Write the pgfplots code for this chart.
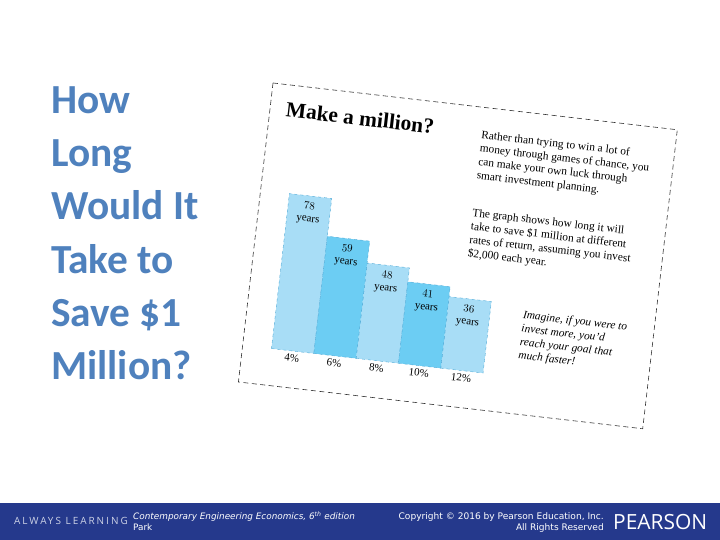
\documentclass[border=0pt]{standalone}
\usepackage{pgfplots}
\pgfplotsset{compat=1.18}
\usepackage{fontspec}
\setmainfont{Liberation Serif}
\newfontfamily\carlito{Carlito}
\newfontfamily\dejavu{DejaVu Sans}
\newfontfamily\opensans{Open Sans}
\newfontfamily\spaced[LetterSpace=20]{Open Sans}
\definecolor{titleblue}{RGB}{79,129,189}
\definecolor{footblue}{RGB}{37,57,140}
\definecolor{barlight}{RGB}{168,221,246}
\definecolor{bardark}{RGB}{108,205,243}
\definecolor{baredge}{RGB}{80,170,215}
\definecolor{footgray}{RGB}{205,210,230}
\begin{document}
\begin{tikzpicture}[x=1bp,y=1bp]
\path[use as bounding box, fill=white] (0,0) rectangle (720,540);
\fill[footblue] (0,0) rectangle (720,37);
% slide title
\begin{scope}[every node/.style={anchor=base west, inner sep=0pt, text=titleblue, font=\carlito\bfseries\fontsize{41.5}{50}\selectfont}]
\node at (51,426.5) {How};
\node at (51,373.3) {Long};
\node at (51,320.1) {Would It};
\node at (51,266.9) {Take to};
\node at (51,213.7) {Save \$1};
\node at (51,160.5) {Million?};
\end{scope}
% footer
\node[anchor=base west, inner sep=0pt, text=footgray, font=\spaced\fontsize{10}{10}\selectfont] at (14,15) {ALWAYS LEARNING};
\node[anchor=base west, inner sep=0pt, text=white, font=\dejavu\itshape\fontsize{8.9}{9}\selectfont] at (133,20) {Contemporary Engineering Economics, 6\textsuperscript{th} edition};
\node[anchor=base west, inner sep=0pt, text=white, font=\dejavu\fontsize{8.9}{9}\selectfont] at (133,9) {Park};
\node[anchor=base east, inner sep=0pt, text=white, font=\dejavu\fontsize{9.1}{9}\selectfont] at (604,20) {Copyright \textcopyright{} 2016 by Pearson Education, Inc.};
\node[anchor=base east, inner sep=0pt, text=white, font=\dejavu\fontsize{9.1}{9}\selectfont] at (604,9) {All Rights Reserved};
\node[anchor=base west, inner sep=0pt, text=white, font=\opensans\fontsize{21}{24}\selectfont] at (613,10) {PEARSON};
% rotated chart panel
\begin{scope}[transform canvas={shift={(273bp,457bp)}, rotate=-6.6}]
\draw[black!80, line width=0.6bp, dash pattern=on 5bp off 3.5bp] (0,0) rectangle (407,-301);
\node[anchor=base west, inner sep=0pt, font=\bfseries\fontsize{21.5}{24}\selectfont] at (16,-32) {Make a million?};
\node[anchor=north west, inner sep=0pt, align=left, font=\fontsize{11.4}{13.6}\selectfont] at (213,-23) {Rather than trying to win a lot of\\money through games of chance, you\\can make your own luck through\\smart investment planning.};
\node[anchor=north west, inner sep=0pt, align=left, font=\fontsize{11.4}{13.6}\selectfont] at (213,-101.5) {The graph shows how long it will\\take to save \$1 million at different\\rates of return, assuming you invest\\\$2,000 each year.};
\node[anchor=north west, inner sep=0pt, align=left, font=\itshape\fontsize{11.4}{13.6}\selectfont] at (275,-197) {Imagine, if you were to\\invest more, you'd\\reach your goal that\\much faster!};
\begin{axis}[
  at={(29bp,-264bp)}, anchor=south west,
  scale only axis, width=213bp, height=160bp,
  xmin=-0.5, xmax=4.5, ymin=0, ymax=80,
  axis line style={draw=none}, tick style={draw=none},
  ytick=\empty, xtick={0,...,4}, xticklabels={4\%,6\%,8\%,10\%,12\%},
  xticklabel style={font=\fontsize{11}{12}\selectfont},
  clip=false,
  nodes near coords={\pgfmathprintnumber{\pgfplotspointmeta}\\years},
  nodes near coords align={below},
  every node near coord/.append style={align=center, font=\fontsize{11}{12.6}\selectfont, inner sep=0pt, yshift=-6bp, text=black},
]
\addplot[ybar, bar width=1, bar shift=0pt, fill=barlight, draw=baredge, dashed, line width=0.4bp] coordinates {(0,78) (2,48) (4,36)};
\addplot[ybar, bar width=1, bar shift=0pt, fill=bardark, draw=baredge, dashed, line width=0.4bp] coordinates {(1,59) (3,41)};
\end{axis}
\end{scope}
\end{tikzpicture}
\end{document}
